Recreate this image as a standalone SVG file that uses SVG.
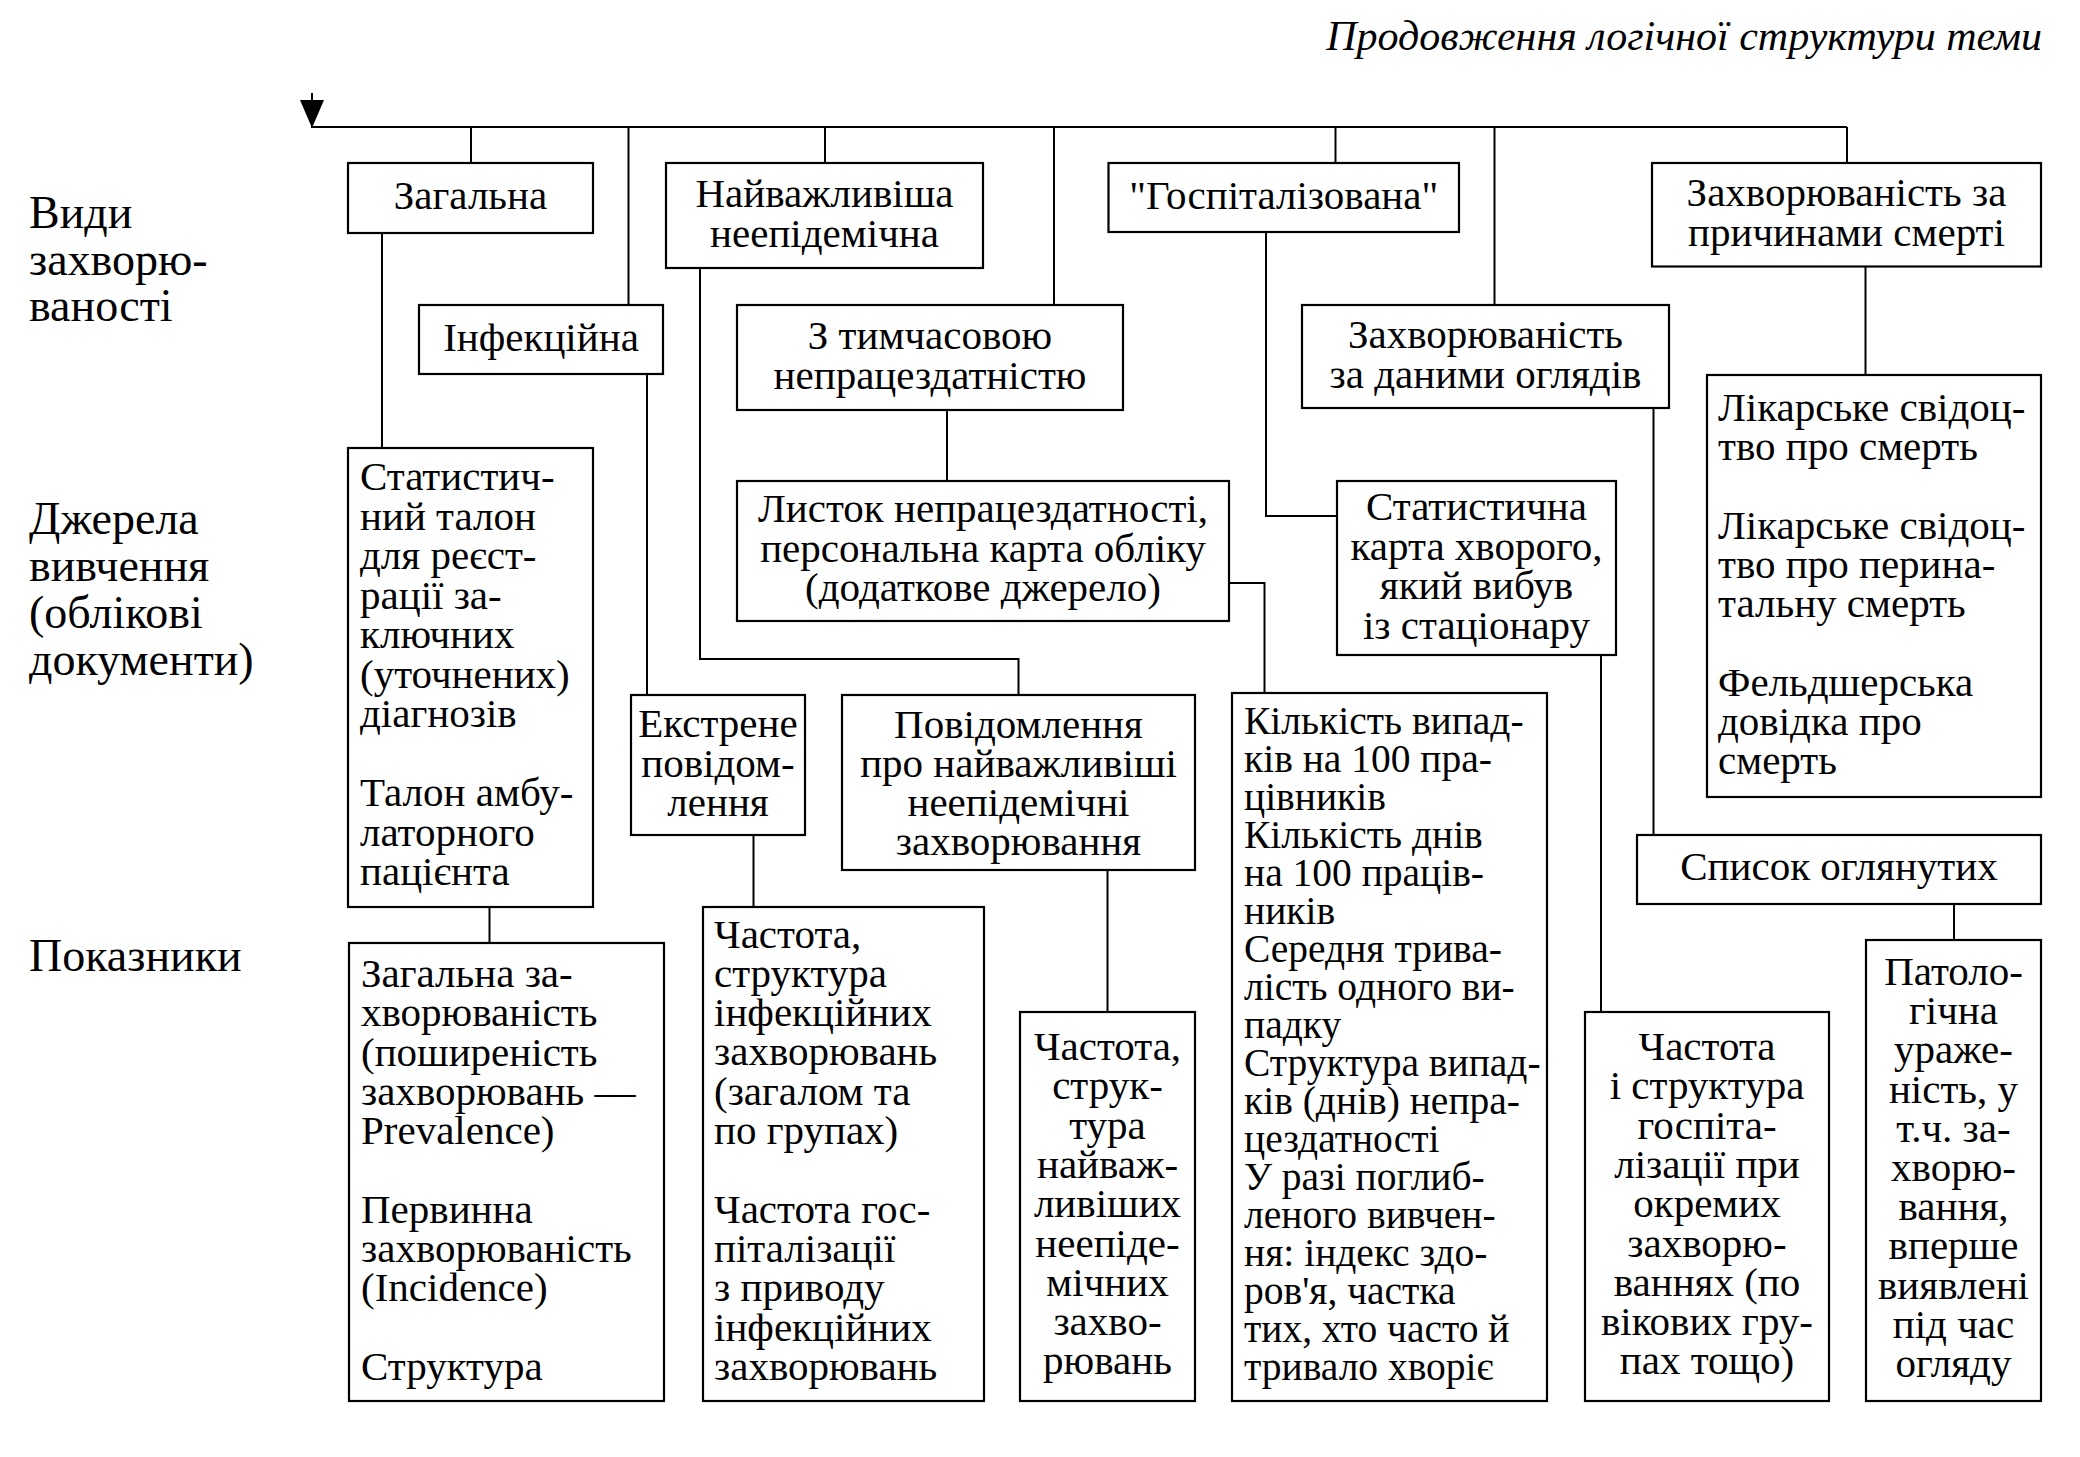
<svg xmlns="http://www.w3.org/2000/svg" width="2080" height="1457" viewBox="0 0 2080 1457">
<defs>
<style>
.box{fill:#fff;stroke:#000;stroke-width:2.2}
.ln{fill:none;stroke:#000;stroke-width:2}
text{font-family:"Liberation Serif","Times New Roman",serif;font-size:41px;fill:#000}
.c{text-anchor:middle}
.s{font-size:39.5px}
.lbl{font-size:46px}
.hdr{font-style:italic;font-size:42px;text-anchor:end}
</style>
<marker id="arr" viewBox="0 0 28 24" refX="28" refY="12" markerWidth="28" markerHeight="24" markerUnits="userSpaceOnUse" orient="auto">
<path d="M0,0 L28,12 L0,24 z" fill="#000"/>
</marker>
</defs>
<rect width="2080" height="1457" fill="#fff"/>
<text class="hdr" x="2042" y="50">Продовження логічної структури теми</text>
<g id="labels">
<text class="lbl" x="29" y="228">Види</text>
<text class="lbl" x="29" y="275">захворю-</text>
<text class="lbl" x="29" y="321">ваності</text>
<text class="lbl" x="29" y="534">Джерела</text>
<text class="lbl" x="29" y="581">вивчення</text>
<text class="lbl" x="29" y="628">(облікові</text>
<text class="lbl" x="29" y="675">документи)</text>
<text class="lbl" x="29" y="971">Показники</text>
</g>
<g id="connectors">
<path class="ln" d="M312,93 V128" marker-end="url(#arr)"/>
<path class="ln" d="M311,127 H1847"/>
<path class="ln" d="M471,127 V163"/>
<path class="ln" d="M628.5,127 V305"/>
<path class="ln" d="M825,127 V163"/>
<path class="ln" d="M1054,127 V305"/>
<path class="ln" d="M1335.5,127 V163"/>
<path class="ln" d="M1494.5,127 V305"/>
<path class="ln" d="M1847,127 V163"/>
<path class="ln" d="M382,233 V448"/>
<path class="ln" d="M647,374 V695"/>
<path class="ln" d="M700,268 V659 H1018.5 V695"/>
<path class="ln" d="M947,410 V481"/>
<path class="ln" d="M1229,583 H1264.5 V693"/>
<path class="ln" d="M1266,232 V516 H1337"/>
<path class="ln" d="M1653.5,408 V835"/>
<path class="ln" d="M1865.5,266.5 V375"/>
<path class="ln" d="M489.5,907 V943"/>
<path class="ln" d="M753.5,835 V907"/>
<path class="ln" d="M1107.5,870 V1012"/>
<path class="ln" d="M1601,655 V1012"/>
<path class="ln" d="M1954,904 V940"/>
</g>
<g id="n-zagalna">
<rect class="box" x="348" y="163" width="245" height="70"/>
<text class="c" x="470.5" y="209">Загальна</text>
</g>
<g id="n-infekciyna">
<rect class="box" x="419" y="305" width="244" height="69"/>
<text class="c" x="541" y="351">Інфекційна</text>
</g>
<g id="n-naivazhlyvisha">
<rect class="box" x="666" y="163" width="317" height="105"/>
<text class="c" x="824.5" y="207">Найважливіша</text>
<text class="c" x="824.5" y="247">неепідемічна</text>
</g>
<g id="n-tymchasova">
<rect class="box" x="737" y="305" width="386" height="105"/>
<text class="c" x="930" y="349">З тимчасовою</text>
<text class="c" x="930" y="389">непрацездатністю</text>
</g>
<g id="n-hospitalizovana">
<rect class="box" x="1108.5" y="163" width="350.5" height="69"/>
<text class="c" x="1283.7" y="209">"Госпіталізована"</text>
</g>
<g id="n-ohliady">
<rect class="box" x="1302" y="305" width="367" height="103"/>
<text class="c" x="1485.5" y="348">Захворюваність</text>
<text class="c" x="1485.5" y="388">за даними оглядів</text>
</g>
<g id="n-prychyny">
<rect class="box" x="1652" y="163" width="389" height="103.5"/>
<text class="c" x="1846.5" y="206">Захворюваність за</text>
<text class="c" x="1846.5" y="246">причинами смерті</text>
</g>
<g id="n-likarske">
<rect class="box" x="1707" y="375" width="334" height="422"/>
<text x="1718" y="421">Лікарське свідоц-</text>
<text x="1718" y="460">тво про смерть</text>
<text x="1718" y="539">Лікарське свідоц-</text>
<text x="1718" y="578">тво про перина-</text>
<text x="1718" y="617">тальну смерть</text>
<text x="1718" y="696">Фельдшерська</text>
<text x="1718" y="735">довідка про</text>
<text x="1718" y="774">смерть</text>
</g>
<g id="n-stat-talon">
<rect class="box" x="348" y="448" width="245" height="459"/>
<text x="360" y="490">Статистич-</text>
<text x="360" y="529.5">ний талон</text>
<text x="360" y="569">для реєст-</text>
<text x="360" y="608.5">рації за-</text>
<text x="360" y="648">ключних</text>
<text x="360" y="687.5">(уточнених)</text>
<text x="360" y="727">діагнозів</text>
<text x="360" y="806">Талон амбу-</text>
<text x="360" y="845.5">латорного</text>
<text x="360" y="885">пацієнта</text>
</g>
<g id="n-lystok">
<rect class="box" x="737" y="481" width="492" height="140"/>
<text class="c" x="983" y="522">Листок непрацездатності,</text>
<text class="c" x="983" y="561.5">персональна карта обліку</text>
<text class="c" x="983" y="601">(додаткове джерело)</text>
</g>
<g id="n-stat-karta">
<rect class="box" x="1337" y="481" width="279" height="174"/>
<text class="c" x="1476.5" y="520">Статистична</text>
<text class="c" x="1476.5" y="559.5">карта хворого,</text>
<text class="c" x="1476.5" y="599">який вибув</text>
<text class="c" x="1476.5" y="638.5">із стаціонару</text>
</g>
<g id="n-ekstrene">
<rect class="box" x="631" y="695" width="174" height="140"/>
<text class="c" x="718" y="737">Екстрене</text>
<text class="c" x="718" y="776.5">повідом-</text>
<text class="c" x="718" y="816">лення</text>
</g>
<g id="n-povidomlennia">
<rect class="box" x="842" y="695" width="353" height="175"/>
<text class="c" x="1018.5" y="738">Повідомлення</text>
<text class="c" x="1018.5" y="777">про найважливіші</text>
<text class="c" x="1018.5" y="816">неепідемічні</text>
<text class="c" x="1018.5" y="855">захворювання</text>
</g>
<g id="n-kilkist">
<rect class="box" x="1232" y="693" width="315" height="708"/>
<text class="s" x="1244" y="734">Кількість випад-</text>
<text class="s" x="1244" y="772">ків на 100 пра-</text>
<text class="s" x="1244" y="810">цівників</text>
<text class="s" x="1244" y="848">Кількість днів</text>
<text class="s" x="1244" y="886">на 100 праців-</text>
<text class="s" x="1244" y="924">ників</text>
<text class="s" x="1244" y="962">Середня трива-</text>
<text class="s" x="1244" y="1000">лість одного ви-</text>
<text class="s" x="1244" y="1038">падку</text>
<text class="s" x="1244" y="1076">Структура випад-</text>
<text class="s" x="1244" y="1114">ків (днів) непра-</text>
<text class="s" x="1244" y="1152">цездатності</text>
<text class="s" x="1244" y="1190">У разі поглиб-</text>
<text class="s" x="1244" y="1228">леного вивчен-</text>
<text class="s" x="1244" y="1266">ня: індекс здо-</text>
<text class="s" x="1244" y="1304">ров'я, частка</text>
<text class="s" x="1244" y="1342">тих, хто часто й</text>
<text class="s" x="1244" y="1380">тривало хворіє</text>
</g>
<g id="n-spysok">
<rect class="box" x="1637" y="835" width="404" height="69"/>
<text class="c" x="1839" y="880">Список оглянутих</text>
</g>
<g id="n-zag-zakhv">
<rect class="box" x="349" y="943" width="315" height="458"/>
<text x="361" y="987">Загальна за-</text>
<text x="361" y="1026.3">хворюваність</text>
<text x="361" y="1065.6">(поширеність</text>
<text x="361" y="1104.9">захворювань —</text>
<text x="361" y="1144.2">Prevalence)</text>
<text x="361" y="1222.8">Первинна</text>
<text x="361" y="1262.1">захворюваність</text>
<text x="361" y="1301.4">(Incidence)</text>
<text x="361" y="1380">Структура</text>
</g>
<g id="n-chast-inf">
<rect class="box" x="703" y="907" width="281" height="494"/>
<text x="714" y="947.5">Частота,</text>
<text x="714" y="986.8">структура</text>
<text x="714" y="1026.1">інфекційних</text>
<text x="714" y="1065.4">захворювань</text>
<text x="714" y="1104.7">(загалом та</text>
<text x="714" y="1144">по групах)</text>
<text x="714" y="1222.6">Частота гос-</text>
<text x="714" y="1261.9">піталізації</text>
<text x="714" y="1301.2">з приводу</text>
<text x="714" y="1340.5">інфекційних</text>
<text x="714" y="1379.8">захворювань</text>
</g>
<g id="n-chast-naiv">
<rect class="box" x="1020" y="1012" width="175" height="389"/>
<text class="c" x="1107.5" y="1060">Частота,</text>
<text class="c" x="1107.5" y="1099.3">струк-</text>
<text class="c" x="1107.5" y="1138.6">тура</text>
<text class="c" x="1107.5" y="1177.9">найваж-</text>
<text class="c" x="1107.5" y="1217.2">ливіших</text>
<text class="c" x="1107.5" y="1256.5">неепіде-</text>
<text class="c" x="1107.5" y="1295.8">мічних</text>
<text class="c" x="1107.5" y="1335.1">захво-</text>
<text class="c" x="1107.5" y="1374.4">рювань</text>
</g>
<g id="n-chast-hosp">
<rect class="box" x="1585" y="1012" width="244" height="389"/>
<text class="c" x="1707" y="1060">Частота</text>
<text class="c" x="1707" y="1099.3">і структура</text>
<text class="c" x="1707" y="1138.6">госпіта-</text>
<text class="c" x="1707" y="1177.9">лізації при</text>
<text class="c" x="1707" y="1217.2">окремих</text>
<text class="c" x="1707" y="1256.5">захворю-</text>
<text class="c" x="1707" y="1295.8">ваннях (по</text>
<text class="c" x="1707" y="1335.1">вікових гру-</text>
<text class="c" x="1707" y="1374.4">пах тощо)</text>
</g>
<g id="n-patol">
<rect class="box" x="1866" y="940" width="175" height="461"/>
<text class="c" x="1953.5" y="985">Патоло-</text>
<text class="c" x="1953.5" y="1024.2">гічна</text>
<text class="c" x="1953.5" y="1063.4">ураже-</text>
<text class="c" x="1953.5" y="1102.6">ність, у</text>
<text class="c" x="1953.5" y="1141.8">т.ч. за-</text>
<text class="c" x="1953.5" y="1181">хворю-</text>
<text class="c" x="1953.5" y="1220.2">вання,</text>
<text class="c" x="1953.5" y="1259.4">вперше</text>
<text class="c" x="1953.5" y="1298.6">виявлені</text>
<text class="c" x="1953.5" y="1337.8">під час</text>
<text class="c" x="1953.5" y="1377">огляду</text>
</g>
</svg>
